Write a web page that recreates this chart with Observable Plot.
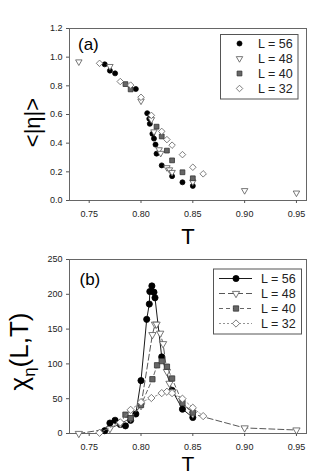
<!DOCTYPE html>
<html><head><meta charset="utf-8">
<script src="https://cdn.jsdelivr.net/npm/d3@7"></script>
<script src="https://cdn.jsdelivr.net/npm/@observablehq/plot@0.6"></script>
<style>
body{margin:0;background:#fff;}
#wrap{position:relative;width:331px;height:475px;overflow:hidden;font-family:"Liberation Sans",Arial,sans-serif;background:#fff;}
#wrap > svg{display:block;}
</style></head><body><div id="wrap"></div>
<script>
// ---------- data: panel (a) <|eta|> vs T ----------
const T56a   = [0.765, 0.77, 0.775, 0.795, 0.806, 0.808, 0.8085, 0.811, 0.8125, 0.814, 0.815, 0.82, 0.83, 0.84, 0.85];
const eta56a = [0.95, 0.906, 0.887, 0.778, 0.609, 0.57, 0.535, 0.465, 0.432, 0.39, 0.327, 0.245, 0.17, 0.127, 0.102];
const T48a   = [0.74, 0.77, 0.80, 0.81, 0.8125, 0.8175, 0.819, 0.825, 0.8275, 0.83, 0.85, 0.90, 0.95];
const eta48a = [0.968, 0.936, 0.695, 0.565, 0.48, 0.355, 0.33, 0.23, 0.215, 0.197, 0.13, 0.07, 0.053];
const T40a   = [0.785, 0.79, 0.815, 0.82, 0.825, 0.83, 0.84, 0.85];
const eta40a = [0.812, 0.775, 0.515, 0.447, 0.348, 0.28, 0.197, 0.155];
const T32a   = [0.76, 0.78, 0.79, 0.80, 0.81, 0.82, 0.825, 0.83, 0.84, 0.85, 0.86];
const eta32a = [0.957, 0.83, 0.805, 0.72, 0.594, 0.482, 0.425, 0.386, 0.32, 0.232, 0.186];

// ---------- data: panel (b) chi_eta(L,T) vs T ----------
const T56b   = [0.765, 0.77, 0.775, 0.78, 0.785, 0.79, 0.795, 0.80, 0.8055, 0.808, 0.8085, 0.8105, 0.8125, 0.8135, 0.82, 0.83, 0.84, 0.85];
const chi56b = [4, 15, 19, 13, 11, 19, 28, 76, 164, 186, 204, 212, 203, 195, 110, 62, 35, 23];
const T48b   = [0.74, 0.77, 0.78, 0.79, 0.80, 0.811, 0.8135, 0.815, 0.8185, 0.8213, 0.825, 0.8275, 0.83, 0.85, 0.90, 0.95];
const chi48b = [0, 7, 14, 22, 40, 142, 157, 157, 144, 129, 89, 72, 60, 28, 8, 5];
const T40b   = [0.785, 0.79, 0.80, 0.811, 0.8155, 0.82, 0.825, 0.83, 0.84, 0.85];
const chi40b = [27, 22, 41, 78, 98, 104, 96, 79, 44, 30];
const T32b   = [0.76, 0.78, 0.79, 0.80, 0.81, 0.82, 0.825, 0.83, 0.84, 0.85, 0.86];
const chi32b = [1, 16, 34, 45, 51, 58, 60, 58, 50, 37, 25];

// ---------- labels / ticks ----------
const seriesLabels = ["L = 56", "L = 48", "L = 40", "L = 32"];
const xTicks  = [0.75, 0.80, 0.85, 0.90, 0.95];
const yTicksA = [0, 0.2, 0.4, 0.6, 0.8, 1.0, 1.2];
const yTicksB = [0, 50, 100, 150, 200, 250];
const xLabel = "T";
const yLabelA = "<|η|>";
const yLabelB = "χη(L,T)";
const panelA = "(a)", panelB = "(b)";

// ---------- styles ----------
const styles = [
  {symbol: "circle",   rot: 0,   fill: "#000", stroke: "#000", ra: 2.5, rb: 3.1, line: "#000", dash: null},
  {symbol: "triangle", rot: 180, fill: "#fff", stroke: "#555", ra: 2.4, rb: 2.7, line: "#444", dash: "6,3"},
  {symbol: "square",   rot: 0,   fill: "#666", stroke: "#333", ra: 2.7, rb: 3.0, line: "#555", dash: "4,3"},
  {symbol: "square",   rot: 45,  fill: "#fff", stroke: "#666", ra: 2.6, rb: 2.9, line: "#888", dash: "2,2"}
];

const toRows = (t, v) => t.map((T, i) => ({T, v: v[i]}));
const seriesA = [toRows(T56a, eta56a), toRows(T48a, eta48a), toRows(T40a, eta40a), toRows(T32a, eta32a)];
const seriesB = [toRows(T56b, chi56b), toRows(T48b, chi48b), toRows(T40b, chi40b), toRows(T32b, chi32b)];

const xDomain = [0.731, 0.9597];
const font = "Liberation Sans, Arial, sans-serif";

function dotMark(d, s, r) {
  return Plot.dot(d, {x: "T", y: "v", symbol: s.symbol, rotate: s.rot, r, fill: s.fill, stroke: s.stroke, strokeWidth: 0.8});
}

const plotA = Plot.plot({
  width: 331, height: 245, marginTop: 28, marginBottom: 45, marginLeft: 69, marginRight: 25,
  style: {fontFamily: font, fontSize: "9px", color: "#222", background: "#fff", overflow: "visible"},
  x: {domain: xDomain},
  y: {domain: [0, 1.2]},
  marks: [
    Plot.frame({stroke: "#666"}),
    Plot.axisX({ticks: xTicks, tickFormat: d3.format(".2f"), tickSize: 3, tickPadding: 7, label: null, stroke: "#555"}),
    Plot.axisY({ticks: yTicksA, tickFormat: d3.format(".1f"), tickSize: 3, tickPadding: 4, label: null, stroke: "#555"}),
    ...seriesA.map((d, k) => dotMark(d, styles[k], styles[k].ra)),
    Plot.text([xLabel], {frameAnchor: "bottom", dy: 28, lineAnchor: "top", fontSize: 22, fill: "#000"}),
    Plot.text([yLabelA], {frameAnchor: "left", dx: -37, dy: 8, rotate: -90, textAnchor: "middle", fontSize: 22, fill: "#000"}),
    Plot.text([panelA], {frameAnchor: "top-left", dx: 8.5, dy: 9, lineAnchor: "top", textAnchor: "start", fontSize: 17, fill: "#000"})
  ]
});

const plotB = Plot.plot({
  width: 331, height: 230, marginTop: 14, marginBottom: 42, marginLeft: 69, marginRight: 25,
  style: {fontFamily: font, fontSize: "9px", color: "#222", background: "#fff", overflow: "visible"},
  x: {domain: xDomain},
  y: {domain: [0, 250]},
  marks: [
    Plot.frame({stroke: "#666"}),
    Plot.axisX({ticks: xTicks, tickFormat: d3.format(".2f"), tickSize: 3, tickPadding: 7, label: null, stroke: "#555"}),
    Plot.axisY({ticks: yTicksB, tickFormat: d3.format("d"), tickSize: 3, tickPadding: 4, label: null, stroke: "#555"}),
    ...seriesB.flatMap((d, k) => [
      Plot.line(d, {x: "T", y: "v", stroke: styles[k].line, strokeWidth: 0.9, strokeDasharray: styles[k].dash}),
      dotMark(d, styles[k], styles[k].rb)
    ]),
    Plot.text([xLabel], {frameAnchor: "bottom", dy: 22.5, lineAnchor: "top", fontSize: 21, fill: "#000"}),
    Plot.text([yLabelB], {frameAnchor: "left", dx: -50, dy: 5, rotate: -90, textAnchor: "middle", fontSize: 26, fill: "#000"}),
    Plot.text([panelB], {frameAnchor: "top-left", dx: 10, dy: 13, lineAnchor: "top", textAnchor: "start", fontSize: 17, fill: "#000"})
  ]
});

const wrap = document.getElementById("wrap");
wrap.appendChild(plotA);
wrap.appendChild(plotB);

// subscript eta in chi label
d3.select(plotB).selectAll("text").filter(function() { return this.textContent === yLabelB; }).each(function() {
  const t = d3.select(this);
  const s = yLabelB;
  t.text(null);
  t.append("tspan").text(s[0]);
  t.append("tspan").attr("font-size", 17).attr("dy", 7).text(s[1]);
  t.append("tspan").attr("dy", -7).text(s.slice(2));
});

// ---------- legends (overlay) ----------
const ov = d3.select(wrap).append("svg")
  .attr("width", 331).attr("height", 475)
  .style("position", "absolute").style("left", 0).style("top", 0)
  .attr("font-family", font);

function legend(box, rowY0, rowStep, markerX, textX, line, rKey) {
  const g = ov.append("g");
  g.append("rect").attr("x", box[0] + 0.5).attr("y", box[1] + 0.5)
    .attr("width", box[2] - box[0]).attr("height", box[3] - box[1])
    .attr("fill", "#fff").attr("stroke", "#555").attr("stroke-width", 1);
  seriesLabels.forEach((lab, k) => {
    const s = styles[k];
    const y = rowY0 + k * rowStep;
    if (line) {
      g.append("line").attr("x1", line[0]).attr("x2", line[1]).attr("y1", y).attr("y2", y)
        .attr("stroke", s.line).attr("stroke-width", 0.9).attr("stroke-dasharray", s.dash);
    }
    const r = s[rKey];
    const sym = s.symbol === "circle" ? d3.symbolCircle : s.symbol === "triangle" ? d3.symbolTriangle : d3.symbolSquare;
    g.append("path").attr("d", d3.symbol(sym, Math.PI * r * r)())
      .attr("transform", `translate(${markerX},${y}) rotate(${s.rot})`)
      .attr("fill", s.fill).attr("stroke", s.stroke).attr("stroke-width", 0.8);
    g.append("text").attr("x", textX).attr("y", y).attr("dy", "0.35em")
      .attr("font-size", 12.5).attr("fill", "#222").text(lab);
  });
}
legend([220, 34, 297.5, 98.5], 43.5, 15, 239.5, 258, null, "ra");
legend([213, 268.5, 301, 333.5], 278.5, 15, 236, 261, [219, 252], "rb");
</script></body></html>
